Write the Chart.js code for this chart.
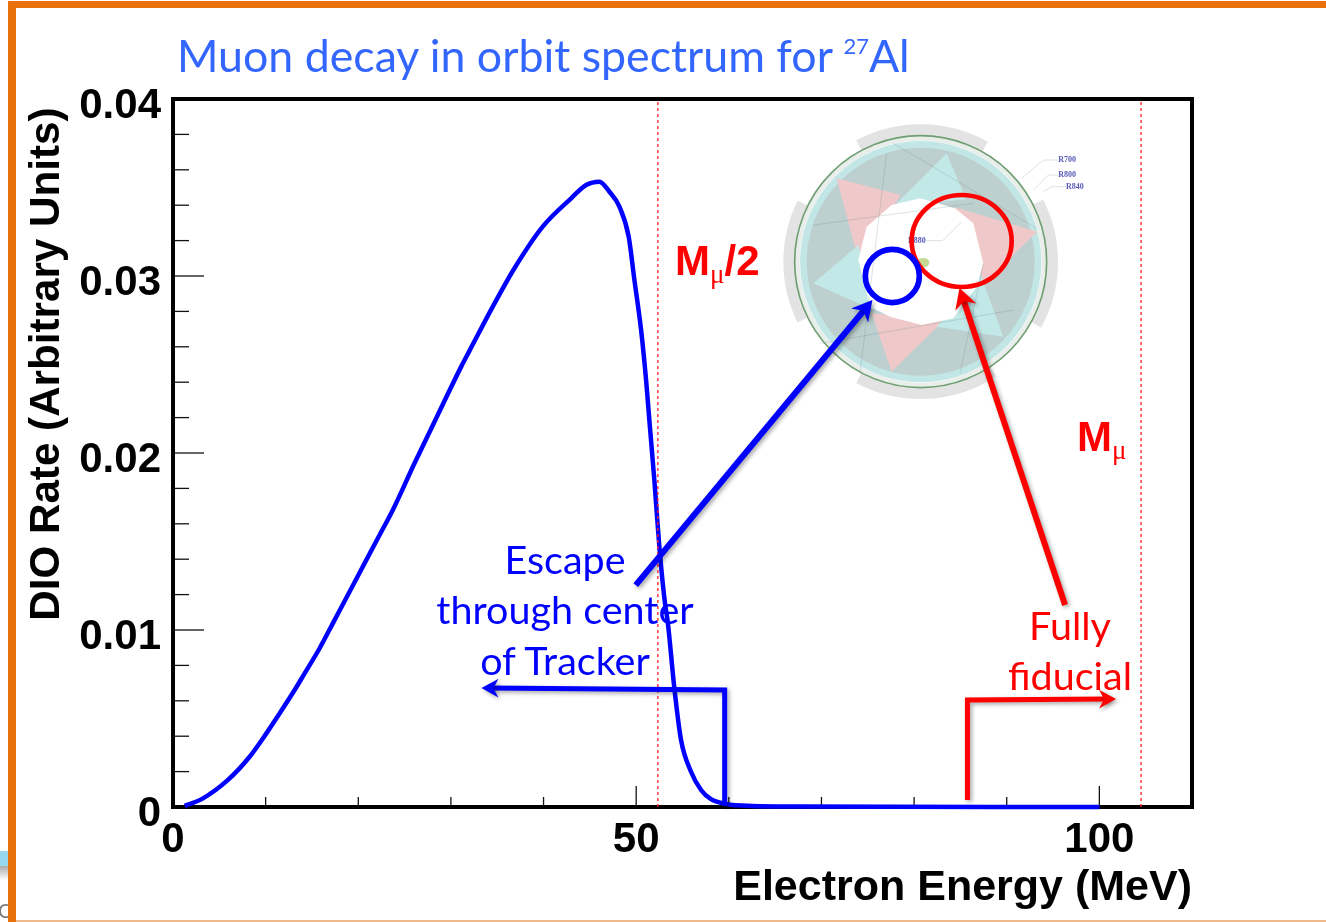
<!DOCTYPE html>
<html>
<head>
<meta charset="utf-8">
<title>Muon decay in orbit spectrum</title>
<script src="https://cdn.jsdelivr.net/npm/chart.js@4"></script>
<style>
  html, body { margin: 0; background: #fff; overflow: hidden; }
  #slide { position: relative; width: 1326px; height: 922px; overflow: hidden; }
  #c { position: absolute; left: 0; top: 0; }
  .bar { position: absolute; background: #e8710c; }
  .t { position: absolute; white-space: nowrap; font-family: Lato, sans-serif; }
  .blue { color: #0000ff; font-size: 39.5px; text-align: center; transform: translateX(-50%); }
  .red { color: #ff0000; font-size: 39.5px; text-align: center; transform: translateX(-50%); }
  .mass { color: #ff0000; font: bold 42px "Liberation Sans", sans-serif; }
  .mass sub { font: 27px "Liberation Serif", serif; vertical-align: -8px; line-height: 0; }
  sup { font-size: 22px; vertical-align: 18px; line-height: 0; }
</style>
</head>
<body>
<div id="slide">
  <canvas id="c" width="1326" height="922"></canvas>
  <div class="bar" style="left:8px;top:1px;width:1318px;height:7px"></div>
  <div class="bar" style="left:8px;top:1px;width:8px;height:921px"></div>
  <div style="position:absolute;left:16px;top:920px;width:1310px;height:2px;background:#efb98c"></div>
  <div style="position:absolute;left:0;top:851px;width:8px;height:15px;background:#98d8ee"></div>
  <div style="position:absolute;left:0;top:866px;width:8px;height:14px;background:linear-gradient(#aaa,#fff)"></div>
  <div class="t" style="left:-2px;top:898px;font-size:20px;color:#777;width:10px;overflow:hidden">C</div>
  <div class="t" style="left:177px;top:28px;font-size:44.7px;color:#3366ff">Muon decay in orbit spectrum for <sup>27</sup>Al</div>
  <div class="t mass" style="left:675px;top:237px">M<sub>μ</sub>/2</div>
  <div class="t mass" style="left:1077px;top:413px">M<sub>μ</sub></div>
  <div class="t blue" style="left:565px;top:535px">Escape</div>
  <div class="t blue" style="left:565px;top:585px">through center</div>
  <div class="t blue" style="left:565px;top:636px">of Tracker</div>
  <div class="t red" style="left:1070px;top:601px">Fully</div>
  <div class="t red" style="left:1070px;top:651px">fiducial</div>
</div>
<script>
// spectrum
const energy = [1.26, 3.24, 5.93, 8.27, 10.08, 11.51, 13.13, 14.21, 15.83, 17.44, 19.06, 20.86, 22.3, 23.73,
  26.07, 28.41, 31.11, 32, 34.52, 36.86, 39.91, 42.98, 44.6, 46.03, 47.11, 48.19, 49.19, 49.81, 50.53, 51.07,
  51.42, 51.96, 52.5, 53.04, 53.42, 54.12, 54.84, 55.92, 57, 58.08, 59.7, 62.53, 67.6, 100];
const rate = [0.00006, 0.00049, 0.00153, 0.00284, 0.00416, 0.00529, 0.00661, 0.00755, 0.00897, 0.01056, 0.01216,
  0.01395, 0.01537, 0.01678, 0.01942, 0.02196, 0.02488, 0.02577, 0.02827, 0.03044, 0.03279, 0.03439, 0.03514,
  0.03533, 0.03476, 0.03392, 0.03222, 0.02977, 0.02695, 0.02412, 0.02186, 0.01847, 0.01471, 0.01181, 0.0104,
  0.00672, 0.00379, 0.00199, 0.00096, 0.00044, 0.00017, 0.00006, 0.00003, 0];

const massLines = [52.34, 104.5];
const xTicks = [0, 50, 100];
const xMinorTicks = [10, 20, 30, 40, 60, 70, 80, 90];
const yTicks = [0, 0.01, 0.02, 0.03, 0.04];
const yMinorTicks = [0.002, 0.004, 0.006, 0.008, 0.012, 0.014, 0.016, 0.018, 0.022, 0.024, 0.026, 0.028, 0.032, 0.034, 0.036, 0.038];

// arrows, in axis units
const escapeArrow = [[49.95, 0.01254], [75.5, 0.02864]];
const fiducialArrow = [[96.3, 0.01141], [84.9, 0.02932]];
const escapeStep = [[59.55, 0.0001], [59.55, 0.00661], [33.3, 0.00672]];
const fiducialStep = [[85.76, 0.0004], [85.76, 0.00605], [101.8, 0.0061]];

const BOLD = "'Liberation Sans', Arial, sans-serif";

function pares(xs, ys) {
  return xs.map((x, i) => ({ x, y: ys[i] }));
}

function seta(chart, ctx, path, cor, larg, cabeca) {
  const { x: sx, y: sy } = chart.scales;
  const pts = path.map((p) => [sx.getPixelForValue(p[0]), sy.getPixelForValue(p[1])]);
  const n = pts.length - 1;
  const a = Math.atan2(pts[n][1] - pts[n - 1][1], pts[n][0] - pts[n - 1][0]);
  ctx.save();
  ctx.shadowColor = "rgba(0,0,0,0.35)";
  ctx.shadowBlur = 4;
  ctx.shadowOffsetX = 2;
  ctx.shadowOffsetY = 2;
  ctx.strokeStyle = cor;
  ctx.fillStyle = cor;
  ctx.lineWidth = larg;
  ctx.lineJoin = "miter";
  ctx.beginPath();
  pts.forEach((p, i) => {
    if (i === n) ctx.lineTo(p[0] - 8 * Math.cos(a), p[1] - 8 * Math.sin(a));
    else if (i === 0) ctx.moveTo(p[0], p[1]);
    else ctx.lineTo(p[0], p[1]);
  });
  ctx.stroke();
  ctx.translate(pts[n][0], pts[n][1]);
  ctx.rotate(a);
  ctx.beginPath();
  ctx.moveTo(0, 0);
  ctx.lineTo(-cabeca, -cabeca * 0.55);
  ctx.lineTo(-cabeca * 0.7, 0);
  ctx.lineTo(-cabeca, cabeca * 0.55);
  ctx.closePath();
  ctx.fill();
  ctx.restore();
}

function poligono(ctx, cor, pts) {
  // points are in the 3x zoom units of the inset
  ctx.fillStyle = cor;
  ctx.beginPath();
  pts.forEach((p, i) => (i ? ctx.lineTo(p[0], p[1]) : ctx.moveTo(p[0], p[1])));
  ctx.closePath();
  ctx.fill();
}

function detector(ctx) {
  ctx.save();
  ctx.translate(780, 110);
  ctx.scale(1 / 3, 1 / 3);
  ctx.filter = "blur(0.7px)";
  const cx = 422, cy = 455;

  // outer grey segments
  ctx.strokeStyle = "#e3e3e3";
  ctx.lineWidth = 32;
  [[-2.06, -1.06], [-3.6, -2.68], [0.99, 2.06], [-0.47, 0.5]].forEach((s) => {
    ctx.beginPath();
    ctx.arc(cx, cy, 396, s[0], s[1]);
    ctx.stroke();
  });
  ctx.strokeStyle = "#e9eeea";
  ctx.lineWidth = 14;
  ctx.beginPath();
  ctx.arc(cx, cy, 370, 0, Math.PI * 2);
  ctx.stroke();

  ctx.fillStyle = "#c2e6e6";
  ctx.beginPath();
  ctx.arc(cx, cy, 362, 0, Math.PI * 2);
  ctx.fill();
  ctx.fillStyle = "#bdcfcf";
  ctx.beginPath();
  ctx.arc(cx, cy, 342, 0, Math.PI * 2);
  ctx.fill();

  poligono(ctx, "#efc9c9", [[170, 205], [362, 255], [235, 450]]);
  poligono(ctx, "#efc9c9", [[525, 292], [772, 365], [612, 520]]);
  poligono(ctx, "#efc9c9", [[275, 610], [492, 630], [335, 785]]);
  poligono(ctx, "#c2e8e8", [[500, 130], [558, 268], [340, 290]]);
  poligono(ctx, "#c2e8e8", [[235, 405], [100, 520], [280, 600]]);
  poligono(ctx, "#c2e8e8", [[600, 490], [670, 680], [470, 650]]);
  poligono(ctx, "#ffffff", [[335, 285], [420, 265], [525, 295], [580, 340], [610, 460], [590, 530], [520, 625],
    [425, 645], [330, 620], [270, 590], [235, 450], [260, 350]]);

  // faint wire lines
  ctx.strokeStyle = "rgba(110,130,130,0.35)";
  ctx.lineWidth = 2;
  [[[340, 100], [770, 355]], [[100, 345], [580, 280]], [[320, 130], [240, 790]], [[610, 460], [540, 790]], [[120, 700], [700, 600]]].forEach((l) => {
    ctx.beginPath();
    ctx.moveTo(l[0][0], l[0][1]);
    ctx.lineTo(l[1][0], l[1][1]);
    ctx.stroke();
  });

  ctx.strokeStyle = "#6f9f72";
  ctx.lineWidth = 5;
  ctx.beginPath();
  ctx.arc(cx, cy, 378, 0, Math.PI * 2);
  ctx.stroke();

  // beam spot
  ctx.fillStyle = "#c3d98f";
  ctx.beginPath();
  ctx.ellipse(430, 458, 18, 14, 0, 0, Math.PI * 2);
  ctx.fill();

  // radius callouts
  ctx.strokeStyle = "#d0d0d8";
  ctx.lineWidth = 2;
  [[[725, 205], [790, 150], [835, 150]], [[760, 240], [805, 195], [835, 195]], [[790, 245], [815, 230], [858, 230]], [[545, 335], [488, 392], [440, 392]]].forEach((l) => {
    ctx.beginPath();
    ctx.moveTo(l[0][0], l[0][1]);
    ctx.lineTo(l[1][0], l[1][1]);
    ctx.lineTo(l[2][0], l[2][1]);
    ctx.stroke();
  });
  ctx.filter = "none";
  ctx.fillStyle = "#5a5ab8";
  ctx.font = "bold 24px 'Liberation Serif', serif";
  ctx.textBaseline = "middle";
  ctx.fillText("R700", 835, 150);
  ctx.fillText("R800", 835, 194);
  ctx.fillText("R840", 858, 231);
  ctx.fillText("R880", 384, 392);

  // selection circles
  ctx.lineWidth = 14;
  ctx.strokeStyle = "#ff0000";
  ctx.beginPath();
  ctx.ellipse(545, 393, 150, 138, 0, 0, Math.PI * 2);
  ctx.stroke();
  ctx.lineWidth = 17;
  ctx.strokeStyle = "#0000ff";
  ctx.beginPath();
  ctx.ellipse(337, 498, 81, 80, 0, 0, Math.PI * 2);
  ctx.stroke();
  ctx.restore();
}

const molduraPlugin = {
  id: "moldura",
  beforeDatasetsDraw(chart) {
    const { ctx, chartArea: a, scales } = chart;
    ctx.save();
    ctx.strokeStyle = "#111";
    ctx.lineWidth = 1.3;
    const marca = (x1, y1, x2, y2) => {
      ctx.beginPath();
      ctx.moveTo(x1, y1);
      ctx.lineTo(x2, y2);
      ctx.stroke();
    };
    xTicks.forEach((v) => { const p = scales.x.getPixelForValue(v); marca(p, a.bottom, p, a.bottom - 21); });
    xMinorTicks.forEach((v) => { const p = scales.x.getPixelForValue(v); marca(p, a.bottom, p, a.bottom - 10); });
    yTicks.forEach((v) => { const p = scales.y.getPixelForValue(v); marca(a.left, p, a.left + 31, p); });
    yMinorTicks.forEach((v) => { const p = scales.y.getPixelForValue(v); marca(a.left, p, a.left + 16, p); });
    ctx.strokeStyle = "#000";
    ctx.lineWidth = 4;
    ctx.strokeRect(a.left, a.top, a.right - a.left, a.bottom - a.top);
    ctx.restore();
  },
  afterDraw(chart) {
    const { ctx } = chart;
    detector(ctx);
    seta(chart, ctx, escapeArrow, "#0000ff", 6, 20);
    seta(chart, ctx, fiducialArrow, "#ff0000", 6, 20);
    seta(chart, ctx, escapeStep, "#0000ff", 5, 17);
    seta(chart, ctx, fiducialStep, "#ff0000", 5, 17);
  },
};

new Chart(document.getElementById("c"), {
  type: "scatter",
  data: {
    datasets: [
      {
        label: "M/2",
        data: pares([massLines[0], massLines[0]], [0, 0.04]),
        showLine: true, pointRadius: 0, borderColor: "#ff2020", borderWidth: 1.3, borderDash: [3, 3],
      },
      {
        label: "M",
        data: pares([massLines[1], massLines[1]], [0, 0.04]),
        showLine: true, pointRadius: 0, borderColor: "#ff2020", borderWidth: 1.3, borderDash: [3, 3],
      },
      {
        label: "DIO",
        data: pares(energy, rate),
        showLine: true, pointRadius: 0, borderColor: "#0000ff", borderWidth: 4.5,
        cubicInterpolationMode: "monotone", clip: false,
      },
    ],
  },
  options: {
    responsive: false,
    animation: false,
    layout: { padding: { left: 0, top: 99, right: 134, bottom: 0 } },
    plugins: { legend: { display: false }, tooltip: { enabled: false } },
    scales: {
      x: {
        type: "linear",
        min: 0,
        max: 110,
        grid: { display: false },
        border: { display: false },
        afterBuildTicks: (s) => { s.ticks = xTicks.map((value) => ({ value })); },
        afterFit: (s) => { s.height = 115; },
        ticks: {
          color: "#000", padding: 0, maxRotation: 0, autoSkip: false,
          font: { family: BOLD, weight: "bold", size: 42 },
        },
        title: {
          display: true, text: "Electron Energy (MeV)", align: "end", color: "#000",
          font: { family: BOLD, weight: "bold", size: 43 }, padding: { top: 0, bottom: 8 },
        },
      },
      y: {
        min: 0,
        max: 0.04,
        grid: { display: false },
        border: { display: false },
        afterBuildTicks: (s) => { s.ticks = yTicks.map((value) => ({ value })); },
        afterFit: (s) => { s.width = 173; },
        ticks: {
          color: "#000", padding: 4, labelOffset: 7, autoSkip: false,
          font: { family: BOLD, weight: "bold", size: 42 },
          callback: (v) => (v === 0 ? "0" : v.toFixed(2)),
        },
        title: {
          display: true, text: "DIO Rate (Arbitrary Units)\u2009", align: "end", color: "#000",
          font: { family: BOLD, weight: "bold", size: 42.2 }, padding: { top: 22, bottom: 0 },
        },
      },
    },
  },
  plugins: [molduraPlugin],
});
</script>
</body>
</html>
